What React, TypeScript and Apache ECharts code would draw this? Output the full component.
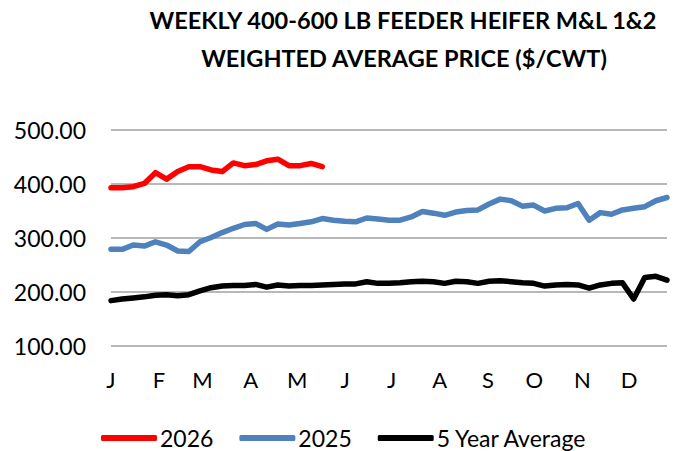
import React, { useEffect, useRef } from "react";
import * as echarts from "echarts";

const TITLE_LINES = [
  "WEEKLY 400-600 LB FEEDER HEIFER M&L 1&2",
  "WEIGHTED AVERAGE PRICE ($/CWT)",
];

const MONTH_LABELS = ["J", "F", "M", "A", "M", "J", "J", "A", "S", "O", "N", "D"];
const MONTH_START_DAYS = [0, 31, 59, 90, 120, 151, 181, 212, 243, 273, 304, 334];
const DAYS_PER_POINT = 7.17;

const Y_TICKS = [100, 200, 300, 400, 500];

const SERIES_2026 = [
  393, 393, 395, 401, 421, 409, 423, 432, 432, 426, 423, 439, 434, 436, 443, 446,
  434, 434, 438, 432,
];

const SERIES_2025 = [
  279, 279, 287, 285, 293, 287, 276, 275, 293, 301, 310, 318, 325, 327, 316, 326,
  324, 327, 330, 336, 333, 331, 330, 337, 335, 333, 333, 339, 349, 346, 342, 348,
  351, 352, 363, 372, 369, 359, 361, 350, 355, 356, 364, 333, 347, 344, 352, 355,
  358, 369, 375,
];

const SERIES_5YR = [
  184, 187, 189, 191, 194, 195, 193, 195, 202, 208, 211, 212, 212, 214, 209, 213,
  211, 212, 212, 213, 214, 215, 215, 219, 216, 216, 217, 219, 220, 219, 216, 220,
  219, 216, 220, 221, 219, 217, 216, 211, 213, 214, 213, 207, 213, 216, 217, 187,
  227, 229, 222,
];

const FONT = "Lato, Carlito, Calibri, sans-serif";

export default function App() {
  const ref = useRef<HTMLDivElement>(null);

  useEffect(() => {
    if (!ref.current) return;
    const chart = echarts.init(ref.current, undefined, { renderer: "svg" });
    const monthPos = MONTH_START_DAYS.map((d) => d / DAYS_PER_POINT);
    const toPairs = (arr: number[]) => arr.map((v, i) => [i, v]);

    const titleStyle = {
      textAlign: "center",
      textVerticalAlign: "middle",
      fontFamily: FONT,
      fontWeight: "bold",
      fontSize: 23.5,
      fill: "#000000",
    };

    chart.setOption({
      animation: false,
      backgroundColor: "#ffffff",
      textStyle: { fontFamily: FONT },
      grid: { left: 111, right: 10, top: 130, bottom: 105, containLabel: false },
      graphic: [
        { type: "text", x: 403, y: 20, style: { ...titleStyle, text: TITLE_LINES[0] } },
        { type: "text", x: 404, y: 58, style: { ...titleStyle, text: TITLE_LINES[1] } },
      ],
      legend: {
        left: 96,
        top: 421,
        icon: "roundRect",
        itemWidth: 56,
        itemHeight: 6,
        itemGap: 26,
        textStyle: {
          fontFamily: FONT,
          fontSize: 23,
          lineHeight: 24,
          color: "#000000",
          padding: [0, 0, 0, -2],
        },
        data: ["2026", "2025", "5 Year Average"],
      },
      xAxis: {
        type: "value",
        min: 0,
        max: SERIES_2025.length - 1,
        axisLine: { show: false },
        axisTick: { show: false },
        splitLine: { show: false },
        axisLabel: {
          customValues: monthPos,
          showMinLabel: true,
          showMaxLabel: true,
          margin: 22,
          fontFamily: FONT,
          fontSize: 22,
          color: "#000000",
          formatter: (v: number) => {
            let best = 0;
            let bd = Infinity;
            monthPos.forEach((p, i) => {
              const d = Math.abs(p - v);
              if (d < bd) {
                bd = d;
                best = i;
              }
            });
            return MONTH_LABELS[best];
          },
        },
      },
      yAxis: {
        type: "value",
        min: Y_TICKS[0],
        max: Y_TICKS[Y_TICKS.length - 1],
        interval: 100,
        axisLine: { show: false },
        axisTick: { show: false },
        splitLine: { show: true, lineStyle: { color: "#a0a0a0", width: 1.5 } },
        axisLabel: {
          margin: 25,
          fontFamily: FONT,
          fontSize: 23,
          color: "#000000",
          formatter: (v: number) => v.toFixed(2),
        },
      },
      series: [
        {
          name: "2026",
          type: "line",
          data: toPairs(SERIES_2026),
          showSymbol: false,
          symbol: "none",
          z: 4,
          itemStyle: { color: "#ff0000" },
          lineStyle: { color: "#ff0000", width: 5.5, cap: "round", join: "round" },
        },
        {
          name: "2025",
          type: "line",
          data: toPairs(SERIES_2025),
          showSymbol: false,
          symbol: "none",
          z: 3,
          itemStyle: { color: "#4f81bd" },
          lineStyle: { color: "#4f81bd", width: 5.5, cap: "round", join: "round" },
        },
        {
          name: "5 Year Average",
          type: "line",
          data: toPairs(SERIES_5YR),
          showSymbol: false,
          symbol: "none",
          z: 2,
          itemStyle: { color: "#000000" },
          lineStyle: { color: "#000000", width: 5.5, cap: "round", join: "round" },
        },
      ],
    });

    return () => chart.dispose();
  }, []);

  return (
    <div
      ref={ref}
      style={{ position: "fixed", left: 0, top: 0, width: 677, height: 451, background: "#fff" }}
    />
  );
}
